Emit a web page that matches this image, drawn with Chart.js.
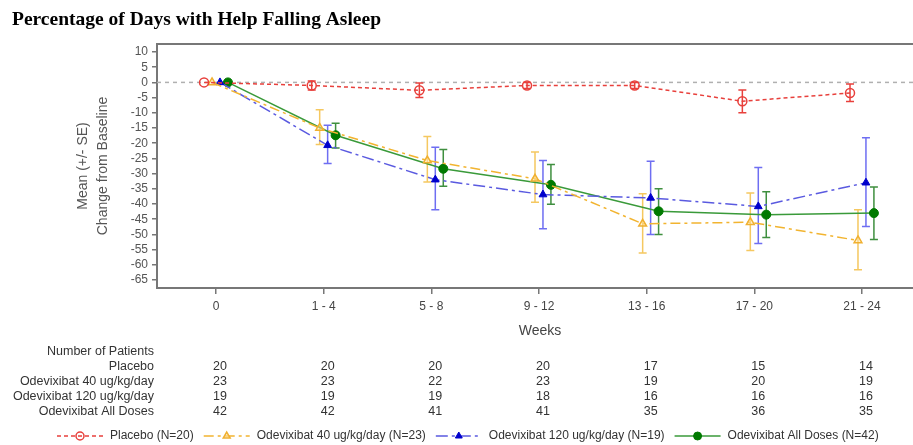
<!DOCTYPE html>
<html>
<head>
<meta charset="utf-8">
<script src="https://cdn.jsdelivr.net/npm/chart.js@4.4.1/dist/chart.umd.min.js"></script>
<style>
  html, body { margin: 0; padding: 0; background: #fff; overflow: hidden; }
  canvas { display: block; }
</style>
</head>
<body>
<canvas id="chart" width="913" height="445"></canvas>
<script>
const weeks = ['0', '1 - 4', '5 - 8', '9 - 12', '13 - 16', '17 - 20', '21 - 24'];
const yTicks = [10, 5, 0, -5, -10, -15, -20, -25, -30, -35, -40, -45, -50, -55, -60, -65];

// mean change from baseline and the SE bar ends
const placeboMean = [0, -1, -2.6, -1, -1, -6.2, -3.5];
const placeboLow = [0, -2.5, -5, -2, -2, -10, -6.3];
const placeboHigh = [0, 0.5, -0.2, 0, 0, -2.5, -0.5];

const dose40Mean = [0, -15, -25.7, -31.7, -46.5, -46, -52];
const dose40Low = [0, -20.4, -32.8, -39.4, -56.1, -55.3, -61.6];
const dose40High = [0, -9, -17.8, -22.9, -36.6, -36.4, -41.9];

const dose120Mean = [0, -20.7, -32, -36.9, -38, -40.8, -33];
const dose120Low = [0, -26.7, -41.9, -48.1, -50, -53, -47.4];
const dose120High = [0, -14.1, -21.3, -25.7, -25.9, -28, -18.2];

const allMean = [0, -17.4, -28.4, -33.7, -42.4, -43.5, -43];
const allLow = [0, -21.6, -34.2, -40.1, -50, -51, -51.7];
const allHigh = [0, -13.4, -22.1, -27, -35, -36, -34.4];

// number of patients table
const rowLabels = ['Placebo', 'Odevixibat 40 ug/kg/day', 'Odevixibat 120 ug/kg/day', 'Odevixibat All Doses'];
const nPlacebo = [20, 20, 20, 20, 17, 15, 14];
const n40 = [23, 23, 22, 23, 19, 20, 19];
const n120 = [19, 19, 19, 18, 16, 16, 16];
const nAll = [42, 42, 41, 41, 35, 36, 35];

const legendLabels = ['Placebo (N=20)', 'Odevixibat 40 ug/kg/day (N=23)', 'Odevixibat 120 ug/kg/day (N=19)', 'Odevixibat All Doses (N=42)'];

const FONT = '"Liberation Sans", Arial, sans-serif';

function series(label, mean, low, high, shift, style) {
  return Object.assign({
    label,
    data: mean.map((v, i) => ({ x: i + shift, y: v, lo: low[i], hi: high[i] })),
    showLine: true,
    tension: 0,
    borderWidth: 1.5
  }, style);
}

const datasets = [
  series(legendLabels[0], placeboMean, placeboLow, placeboHigh, -0.111, {
    borderColor: '#e8403c', borderDash: [4, 3], errorColor: '#e8403c',
    pointStyle: 'circle', pointRadius: 4.5, pointBorderWidth: 1.5,
    pointBorderColor: '#e8403c', pointBackgroundColor: 'rgba(255,255,255,0)'
  }),
  series(legendLabels[1], dose40Mean, dose40Low, dose40High, -0.037, {
    borderColor: '#f2b430', borderDash: [10, 4, 3, 4], errorColor: '#f5c860',
    pointStyle: 'triangle', pointRadius: 4.5, pointBorderWidth: 1.5,
    pointBorderColor: '#f0b030', pointBackgroundColor: 'rgba(255,230,170,0.5)'
  }),
  series(legendLabels[2], dose120Mean, dose120Low, dose120High, 0.037, {
    borderColor: '#5a5ae0', borderDash: [12, 4, 3, 4], errorColor: '#6e6ef2',
    pointStyle: 'triangle', pointRadius: 4.5, pointBorderWidth: 1,
    pointBorderColor: '#0000cc', pointBackgroundColor: '#0000cc'
  }),
  series(legendLabels[3], allMean, allLow, allHigh, 0.111, {
    borderColor: '#3a9a3a', borderDash: [], errorColor: '#3f8f3f',
    pointStyle: 'circle', pointRadius: 4.5, pointBorderWidth: 1,
    pointBorderColor: '#007a00', pointBackgroundColor: '#007a00'
  })
];

const extras = {
  id: 'extras',
  beforeDatasetsDraw(chart) {
    const { ctx, chartArea: a, scales: { x, y } } = chart;
    ctx.save();
    // frame
    ctx.strokeStyle = '#777';
    ctx.lineWidth = 2;
    ctx.beginPath();
    ctx.moveTo(a.left, a.top);
    ctx.lineTo(a.right, a.top);
    ctx.stroke();
    // zero reference line
    const y0 = y.getPixelForValue(0);
    ctx.strokeStyle = '#b0b0b0';
    ctx.lineWidth = 1.5;
    ctx.setLineDash([4, 4]);
    ctx.beginPath();
    ctx.moveTo(a.left, y0);
    ctx.lineTo(a.right, y0);
    ctx.stroke();
    ctx.setLineDash([]);
    // error bars
    chart.data.datasets.forEach(ds => {
      ctx.strokeStyle = ds.errorColor;
      ctx.lineWidth = 1.5;
      ds.data.forEach(p => {
        if (p.lo === p.hi) return;
        const px = x.getPixelForValue(p.x);
        const y1 = y.getPixelForValue(p.lo);
        const y2 = y.getPixelForValue(p.hi);
        ctx.beginPath();
        ctx.moveTo(px, y1); ctx.lineTo(px, y2);
        ctx.moveTo(px - 4, y1); ctx.lineTo(px + 4, y1);
        ctx.moveTo(px - 4, y2); ctx.lineTo(px + 4, y2);
        ctx.stroke();
      });
    });
    ctx.restore();
  },
  afterDraw(chart) {
    const { ctx, scales: { x } } = chart;
    ctx.save();
    // axis title
    ctx.fillStyle = '#444';
    ctx.font = '14px ' + FONT;
    ctx.textAlign = 'center';
    ctx.textBaseline = 'middle';
    ctx.fillText('Weeks', 540, 331);

    // patient numbers
    ctx.fillStyle = '#333';
    ctx.font = '12.5px ' + FONT;
    ctx.textAlign = 'right';
    ctx.fillText('Number of Patients', 154, 352);
    const rows = [nPlacebo, n40, n120, nAll];
    rows.forEach((row, r) => {
      const ry = 367 + r * 15;
      ctx.textAlign = 'right';
      ctx.fillText(rowLabels[r], 154, ry);
      ctx.textAlign = 'center';
      row.forEach((n, i) => ctx.fillText(String(n), x.getPixelForValue(i) + 4, ry));
    });

    // legend
    ctx.font = '12px ' + FONT;
    ctx.textAlign = 'left';
    let lx = 57;
    const ly = 436;
    chart.data.datasets.forEach(ds => {
      ctx.strokeStyle = ds.borderColor;
      ctx.lineWidth = 1.5;
      ctx.setLineDash(ds.borderDash);
      ctx.beginPath();
      ctx.moveTo(lx, ly);
      ctx.lineTo(lx + 46, ly);
      ctx.stroke();
      ctx.setLineDash([]);
      ctx.strokeStyle = ds.pointBorderColor;
      ctx.fillStyle = ds.pointBackgroundColor;
      ctx.lineWidth = ds.pointBorderWidth;
      Chart.helpers.drawPoint(ctx, {
        pointStyle: ds.pointStyle, radius: ds.pointRadius - 0.5, borderWidth: ds.pointBorderWidth, rotation: 0
      }, lx + 23, ly);
      ctx.fillStyle = '#333';
      ctx.fillText(ds.label, lx + 53, ly);
      lx += 53 + ctx.measureText(ds.label).width + 10;
    });
    ctx.restore();
  }
};

new Chart(document.getElementById('chart'), {
  type: 'scatter',
  data: { datasets },
  plugins: [extras],
  options: {
    responsive: false,
    animation: false,
    layout: { autoPadding: false, padding: { left: 12, right: 0, top: 0, bottom: 0 } },
    plugins: {
      legend: { display: false },
      tooltip: { enabled: false },
      title: {
        display: true,
        text: 'Percentage of Days with Help Falling Asleep',
        align: 'start',
        color: '#000',
        font: { family: '"Liberation Serif", "Times New Roman", serif', size: 19.5, weight: 'bold', lineHeight: 1.2 },
        padding: { top: 8.5, bottom: 12.1 }
      }
    },
    scales: {
      x: {
        type: 'linear',
        min: -0.548,
        max: 6.474,
        afterFit: s => { s.height = 157; s.paddingLeft = 0; s.paddingRight = 0; },
        afterBuildTicks: s => { s.ticks = weeks.map((_, i) => ({ value: i })); },
        ticks: {
          color: '#444',
          font: { family: FONT, size: 12 },
          padding: 5,
          maxRotation: 0,
          autoSkip: false,
          callback: v => weeks[v]
        },
        grid: { drawOnChartArea: false, drawTicks: true, tickLength: 6, color: '#777', lineWidth: 1.5 },
        border: { display: true, color: '#777', width: 2 }
      },
      y: {
        min: -67.63,
        max: 12.63,
        afterFit: s => { s.width = 145; s.paddingTop = 0; s.paddingBottom = 0; },
        afterBuildTicks: s => { s.ticks = yTicks.map(v => ({ value: v })); },
        ticks: {
          color: '#555',
          font: { family: FONT, size: 12 },
          padding: 4,
          autoSkip: false
        },
        grid: { drawOnChartArea: false, drawTicks: true, tickLength: 5, color: '#777', lineWidth: 1.5 },
        border: { display: true, color: '#777', width: 2 },
        title: {
          display: true,
          text: ['Mean (+/- SE)', 'Change from Baseline'],
          color: '#555',
          font: { family: FONT, size: 14, lineHeight: 1.43 },
          padding: { top: 61, bottom: 0 }
        }
      }
    }
  }
});
</script>
</body>
</html>
